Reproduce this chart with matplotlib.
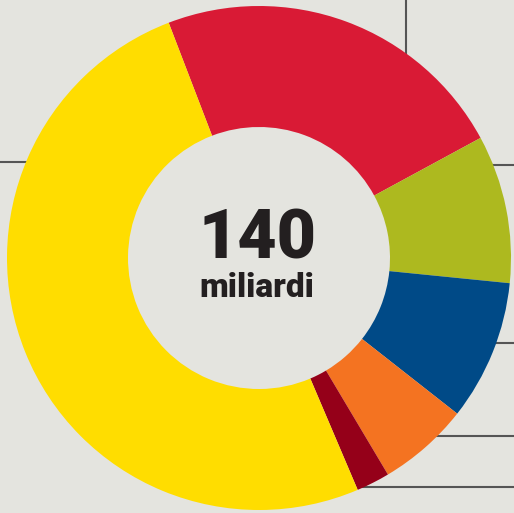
import matplotlib.pyplot as plt

labels = ["rosso", "verde", "blu", "arancio", "bordeaux", "giallo"]
values = [32.1, 13.3, 12.6, 8.2, 3.0, 70.8]
colors = ["#d91a35", "#adb91f", "#004a87", "#f47321", "#950019", "#ffdd00"]
total_text = "140"
unit_text = "miliardi"

# leader lines of the callouts (partly hidden behind the ring)
leaders = [
    ((406, 406), (513, 400)),
    ((0, 40), (351, 351)),
    ((470, 514), (348, 348)),
    ((480, 514), (170, 170)),
    ((430, 514), (77, 77)),
    ((360, 514), (26, 26)),
]

bg = "#e4e4df"
fig = plt.figure(figsize=(5.14, 5.13), dpi=100, facecolor=bg)
ax = fig.add_axes([0, 0, 1, 1])
ax.set_facecolor(bg)

for xs, ys in leaders:
    ax.plot(xs, ys, color="#555555", lw=1.5, zorder=1, solid_capstyle="butt")

ax.pie(values, colors=colors, startangle=111, counterclock=False,
       center=(259, 255), radius=252,
       wedgeprops=dict(width=121, linewidth=0, zorder=2))

ax.text(257, 273, total_text, ha="center", va="center", fontsize=49,
        fontweight="black", family="Roboto", color="#231f20", zorder=3)
ax.text(257, 225, unit_text, ha="center", va="center", fontsize=24,
        fontweight="black", family="Roboto", color="#231f20", zorder=3)

ax.set_xlim(0, 514)
ax.set_ylim(0, 513)
ax.set_aspect("auto")
ax.axis("off")

fig.savefig("out.png", dpi=100, facecolor=bg)
